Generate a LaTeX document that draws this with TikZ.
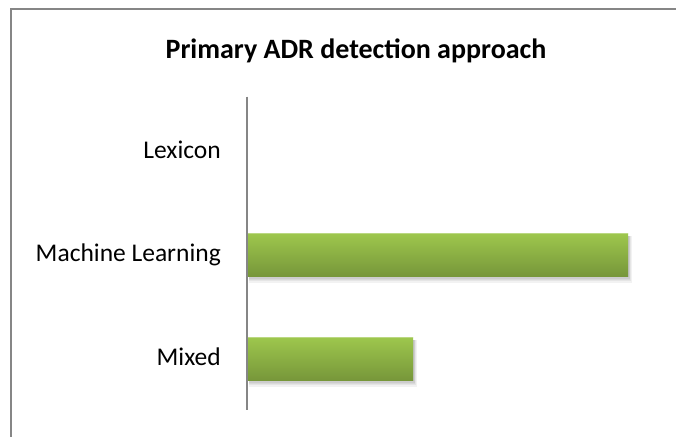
\documentclass[tikz,border=0pt]{standalone}
\usepackage{fontspec}
\setmainfont{Carlito}
\definecolor{bartop}{HTML}{9EC74D}
\definecolor{barbottom}{HTML}{77973A}
\definecolor{framegray}{HTML}{868686}
\begin{document}
\begin{tikzpicture}
[x=1pt,y=-1pt,%
  every node/.style={inner sep=0pt,font=\fontsize{25.5}{30}\selectfont},%
  catlabel/.style={anchor=base east},%
  bar/.style={top color=bartop,bottom color=barbottom},%
  bartopline/.style={bartop!70!white,line width=1pt},%
  barshadow/.style={fill=black,fill opacity=0.05},%
  axisline/.style={framegray,line width=2pt}]
\useasboundingbox (0,0) rectangle (676,436);
\clip (0,0) rectangle (676,436);
\fill[white] (0,0) rectangle (676,436);
\draw[framegray,line width=2pt] (11,9) rectangle (690,450);
% title
\node[anchor=base,font=\fontsize{28}{32}\selectfont\bfseries] (title) at (356,58.3) {Primary ADR detection approach};
% categories
\node[catlabel] (lexicon) at (221,158) {Lexicon};
\node[catlabel] (machine) at (221,261.5) {Machine Learning};
\node[catlabel] (mixed) at (221,365) {Mixed};
% bars with shadow
\foreach \d in {1,...,5}{
  \fill[barshadow] (249,236) rectangle (628+0.8*\d,276+1.3*\d);
  \fill[barshadow] (249,340) rectangle (413+0.8*\d,380+1.3*\d);
}
\shade[bar] (247,233) rectangle (628,276);
\draw[bartopline] (247,233.5) -- (628,233.5);
\shade[bar] (247,337) rectangle (413,380);
\draw[bartopline] (247,337.5) -- (413,337.5);
% axis
\coordinate (axtop) at (246.5,96.5);
\coordinate (axbot) at (246.5,410);
\draw[axisline] (axtop) -- (axbot);
\end{tikzpicture}
\end{document}
